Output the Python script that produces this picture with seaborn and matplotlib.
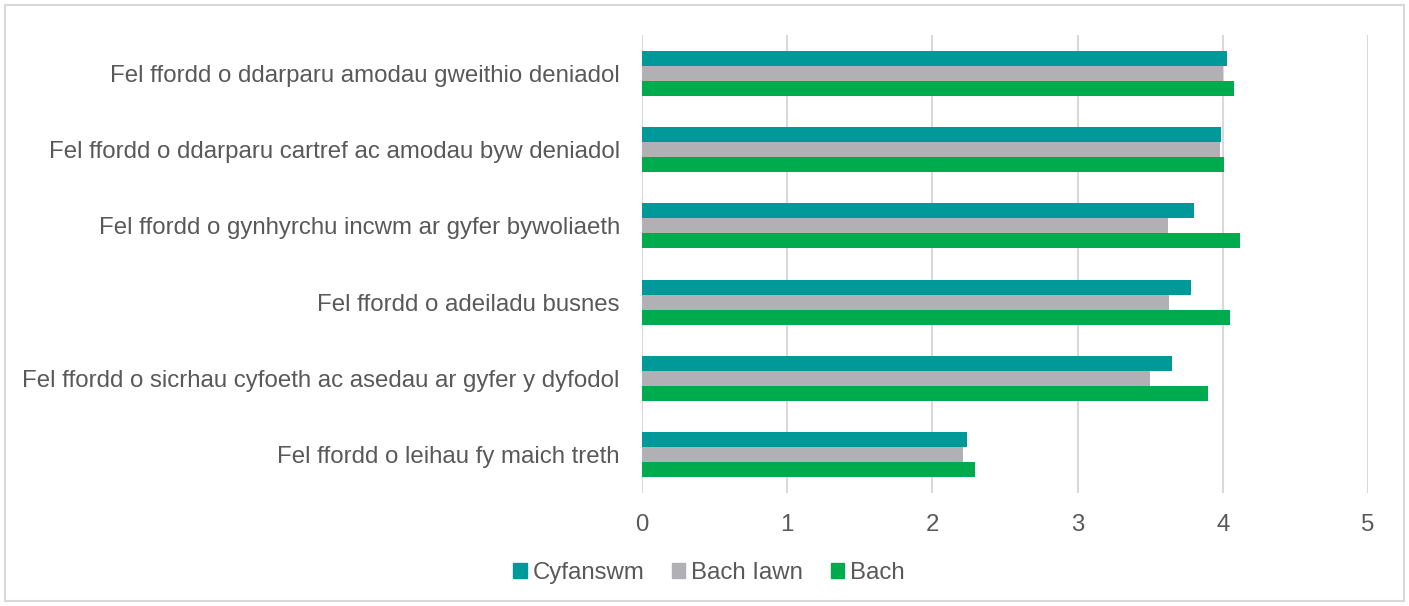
import matplotlib
matplotlib.use("Agg")
import matplotlib.pyplot as plt
from matplotlib.patches import Rectangle
import pandas as pd
import seaborn as sns

categories = [
    "Fel ffordd o ddarparu amodau gweithio deniadol",
    "Fel ffordd o ddarparu cartref ac amodau byw deniadol",
    "Fel ffordd o gynhyrchu incwm ar gyfer bywoliaeth",
    "Fel ffordd o adeiladu busnes",
    "Fel ffordd o sicrhau cyfoeth ac asedau ar gyfer y dyfodol",
    "Fel ffordd o leihau fy maich treth",
]
series_names = ["Cyfanswm", "Bach Iawn", "Bach"]
cyfanswm = [4.03, 3.99, 3.80, 3.78, 3.65, 2.24]
bach_iawn = [4.00, 3.98, 3.62, 3.63, 3.50, 2.21]
bach = [4.08, 4.01, 4.12, 4.05, 3.90, 2.29]
x_ticks = [0, 1, 2, 3, 4, 5]

colors = ["#009999", "#B1B1B5", "#00AB4E"]
text_color = "#595959"
grid_color = "#D9D9D9"

rows = []
for name, vals in zip(series_names, [cyfanswm, bach_iawn, bach]):
    for cat, v in zip(categories, vals):
        rows.append({"cat": cat, "series": name, "value": v})
df = pd.DataFrame(rows)

sns.set_theme(style="white")
plt.rcParams["font.family"] = ["Liberation Sans", "DejaVu Sans"]

fig = plt.figure(figsize=(14.09, 6.06), dpi=100)
ax = fig.add_axes([642 / 1409, 1 - 493 / 606, (1368 - 642) / 1409, (493 - 35) / 606])

sns.barplot(data=df, y="cat", x="value", hue="series", order=categories,
            hue_order=series_names, palette=colors, orient="h",
            width=0.59, gap=0, saturation=1, linewidth=0, ax=ax, legend=False)

ax.set_xlim(0, 5)
ax.set_xticks(x_ticks)
ax.set_xticklabels([str(t) for t in x_ticks])
ax.set_xlabel("")
ax.set_ylabel("")
ax.xaxis.grid(True, color=grid_color, linewidth=1.5)
ax.yaxis.grid(False)
ax.set_axisbelow(True)
for s in ax.spines.values():
    s.set_visible(False)
ax.tick_params(axis="both", length=0, colors=text_color, labelsize=17.3)
ax.tick_params(axis="x", pad=15)
ax.tick_params(axis="y", pad=16)
for lab in ax.get_yticklabels() + ax.get_xticklabels():
    lab.set_color(text_color)

handles = [Rectangle((0, 0), 1, 1, color=c) for c in colors]
fig.legend(handles, series_names, loc="center", ncol=3,
           bbox_to_anchor=(709 / 1409, 1 - 573 / 606), frameon=False,
           handlelength=0.55, handleheight=0.55, handletextpad=0.25,
           columnspacing=1.15, fontsize=17.3, labelcolor=text_color)

# light frame around the whole chart
fig.patches.append(Rectangle((5 / 1409, 5 / 606), 1399 / 1409, 596 / 606,
                             transform=fig.transFigure, fill=False,
                             edgecolor=grid_color, linewidth=1.5))

fig.savefig("out.png", dpi=100)
